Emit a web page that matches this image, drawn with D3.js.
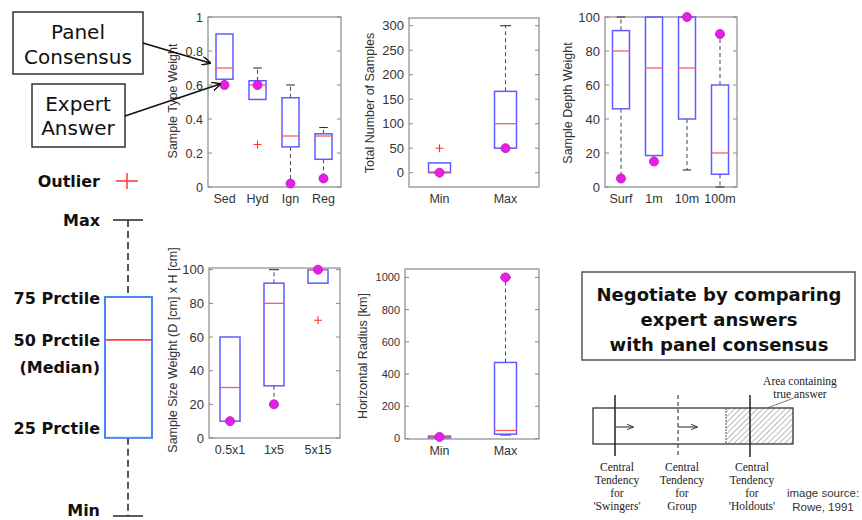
<!DOCTYPE html>
<html><head><meta charset="utf-8">
<script src="https://cdn.jsdelivr.net/npm/d3@7"></script>
<style>body{margin:0;background:#fff}svg{display:block}</style>
</head><body>
<svg id="c" width="862" height="520"></svg>
<script>
// ---------- DATA ----------
const typeCats = ["Sed","Hyd","Ign","Reg"];
const typeLo   = [0.60,0.515,0.02,0.05];
const typeQ1   = [0.634,0.515,0.236,0.163];
const typeMed  = [0.70,0.60,0.30,0.30];
const typeQ3   = [0.90,0.625,0.525,0.313];
const typeHi   = [0.90,0.70,0.60,0.35];
const typeOut  = [[],[0.25],[],[]];
const typeExp  = [0.60,0.60,0.02,0.05];
const typeTicks = [0,0.2,0.4,0.6,0.8,1];

const numCats = ["Min","Max"];
const numLo   = [0,50];
const numQ1   = [0,50];
const numMed  = [1.5,100];
const numQ3   = [20,166];
const numHi   = [20,300];
const numOut  = [[50],[]];
const numExp  = [0,50];
const numTicks = [0,50,100,150,200,250,300];

const depCats = ["Surf","1m","10m","100m"];
const depLo   = [5,15,10,0];
const depQ1   = [46,18.5,40,7.5];
const depMed  = [80,70,70,20];
const depQ3   = [92,100,100,60];
const depHi   = [100,100,100,90];
const depOut  = [[],[],[],[]];
const depExp  = [5,15,100,90];
const depTicks = [0,20,40,60,80,100];

const sizeCats = ["0.5x1","1x5","5x15"];
const sizeLo   = [10,20,92];
const sizeQ1   = [10,31,92];
const sizeMed  = [30,80,100];
const sizeQ3   = [60,92,100];
const sizeHi   = [60,100,100];
const sizeOut  = [[],[],[70]];
const sizeExp  = [10,20,100];
const sizeTicks = [0,20,40,60,80,100];

const radCats = ["Min","Max"];
const radLo   = [5,22];
const radQ1   = [5,27];
const radMed  = [10,50];
const radQ3   = [15,472];
const radHi   = [15,1000];
const radOut  = [[],[]];
const radExp  = [10,1000];
const radTicks = [0,200,400,600,800,1000];

// legend schematic (position of each stat on a 0-100 schematic scale)
const legendLabels = ["Max","75 Prctile","50 Prctile","25 Prctile","Min"];
const legendVals   = [100,74,59.5,26.4,0];

// ---------- DRAW ----------
const svg = d3.select("#c");
const SANS = "'DejaVu Sans', sans-serif";
const ARIAL = "'Liberation Sans', Arial, sans-serif";
const SERIF = "'Liberation Serif', 'Times New Roman', serif";

function panel(o){
  const g = svg.append("g");
  const y = d3.scaleLinear().domain(o.ydom).range([o.fy1, o.fy0]);
  const x = d3.scalePoint().domain(o.cats).range(o.xr);
  const bw = o.bw;
  const tfs = o.tfs || 12.5;
  // frame
  g.append("rect").attr("x",o.fx0).attr("y",o.fy0).attr("width",o.fx1-o.fx0).attr("height",o.fy1-o.fy0)
    .attr("fill","#fff").attr("stroke","#8a8a8a").attr("stroke-width",1.2);
  // ticks
  o.ticks.forEach(t=>{
    const yy = y(t);
    g.append("line").attr("x1",o.fx0).attr("x2",o.fx0+4).attr("y1",yy).attr("y2",yy).attr("stroke","#8a8a8a");
    g.append("line").attr("x1",o.fx1-4).attr("x2",o.fx1).attr("y1",yy).attr("y2",yy).attr("stroke","#8a8a8a");
    g.append("text").attr("x",o.fx0-5).attr("y",yy).attr("dy","0.36em").attr("text-anchor","end")
      .attr("font-family",ARIAL).attr("font-size",tfs).attr("fill","#333").text(d3.format("~g")(t));
  });
  // ylabel
  g.append("text").attr("transform",`translate(${o.lx},${o.ly}) rotate(-90)`).attr("text-anchor","middle")
    .attr("font-family",ARIAL).attr("font-size",12.5).attr("fill","#333").text(o.label);
  // category labels
  o.cats.forEach(c=>{
    g.append("text").attr("x",x(c)).attr("y",o.fy1+11).attr("dy","0.36em").attr("text-anchor","middle")
      .attr("font-family",ARIAL).attr("font-size",12.5).attr("fill","#333").text(c);
  });
  o.cats.forEach((c,i)=>{
    const cx = x(c);
    // whiskers
    if(o.hi[i] > o.q3[i]){
      g.append("line").attr("x1",cx).attr("x2",cx).attr("y1",y(o.q3[i])).attr("y2",y(o.hi[i]))
        .attr("stroke","#555").attr("stroke-width",1.1).attr("stroke-dasharray","4,3");
      g.append("line").attr("x1",cx-bw/4).attr("x2",cx+bw/4).attr("y1",y(o.hi[i])).attr("y2",y(o.hi[i]))
        .attr("stroke","#333").attr("stroke-width",1.1);
    }
    if(o.lo[i] < o.q1[i]){
      g.append("line").attr("x1",cx).attr("x2",cx).attr("y1",y(o.q1[i])).attr("y2",y(o.lo[i]))
        .attr("stroke","#555").attr("stroke-width",1.1).attr("stroke-dasharray","4,3");
      g.append("line").attr("x1",cx-bw/4).attr("x2",cx+bw/4).attr("y1",y(o.lo[i])).attr("y2",y(o.lo[i]))
        .attr("stroke","#333").attr("stroke-width",1.1);
    }
    // box
    g.append("rect").attr("x",cx-bw/2).attr("y",y(o.q3[i])).attr("width",bw)
      .attr("height",Math.max(0.5,y(o.q1[i])-y(o.q3[i])))
      .attr("fill","none").attr("stroke","#5d5dff").attr("stroke-width",1.5);
    // median
    g.append("line").attr("x1",cx-bw/2).attr("x2",cx+bw/2).attr("y1",y(o.med[i])).attr("y2",y(o.med[i]))
      .attr("stroke","#ff5a5a").attr("stroke-width",1.3);
    // outliers
    o.out[i].forEach(v=>{
      const yy=y(v);
      g.append("path").attr("d",`M${cx-4},${yy}H${cx+4}M${cx},${yy-4}V${yy+4}`)
        .attr("stroke","#ff3030").attr("stroke-width",1.1).attr("fill","none");
    });
  });
  // expert answers
  o.cats.forEach((c,i)=>{
    g.append("circle").attr("cx",x(c)).attr("cy",y(o.exp[i])).attr("r",4.5)
      .attr("fill","#e61ee6").attr("stroke","#c010c0").attr("stroke-width",0.8);
  });
}

panel({cats:typeCats,lo:typeLo,q1:typeQ1,med:typeMed,q3:typeQ3,hi:typeHi,out:typeOut,exp:typeExp,ticks:typeTicks,
  ydom:[0,1],fx0:208,fx1:341,fy0:17,fy1:187,xr:[224.5,323.5],bw:17,label:"Sample Type Weight",lx:177,ly:101});
panel({cats:numCats,lo:numLo,q1:numQ1,med:numMed,q3:numQ3,hi:numHi,out:numOut,exp:numExp,ticks:numTicks,
  ydom:[-29.2,315.7],fx0:409,fx1:539,fy0:18,fy1:187,xr:[439.5,505.5],bw:22,label:"Total Number of Samples",lx:374,ly:103,tfs:13});
panel({cats:depCats,lo:depLo,q1:depQ1,med:depMed,q3:depQ3,hi:depHi,out:depOut,exp:depExp,ticks:depTicks,
  ydom:[0,100],fx0:605,fx1:737,fy0:17,fy1:187,xr:[621,720],bw:17,label:"Sample Depth Weight",lx:572,ly:103,tfs:13});
panel({cats:sizeCats,lo:sizeLo,q1:sizeQ1,med:sizeMed,q3:sizeQ3,hi:sizeHi,out:sizeOut,exp:sizeExp,ticks:sizeTicks,
  ydom:[0,101],fx0:209,fx1:340,fy0:268,fy1:438,xr:[230,318],bw:20,label:"Sample Size Weight (D [cm] x H [cm]",lx:177,ly:350,tfs:13});
panel({cats:radCats,lo:radLo,q1:radQ1,med:radMed,q3:radQ3,hi:radHi,out:radOut,exp:radExp,ticks:radTicks,
  ydom:[-3,1052],fx0:405,fx1:539,fy0:269,fy1:439,xr:[439.5,505.5],bw:22,label:"Horizontal Radius [km]",lx:367,ly:356,tfs:11});

// ---------- annotations ----------
const ann = svg.append("g");
ann.append("defs").html(`
 <marker id="ah" viewBox="0 0 10 10" refX="9" refY="5" markerWidth="9" markerHeight="9" orient="auto" markerUnits="userSpaceOnUse">
   <path d="M0,0 L10,5 L0,10" fill="none" stroke="#111" stroke-width="1.6"/></marker>
 <marker id="sa" viewBox="0 0 10 10" refX="9" refY="5" markerWidth="7" markerHeight="7" orient="auto" markerUnits="userSpaceOnUse">
   <path d="M0,1 L10,5 L0,9" fill="none" stroke="#333" stroke-width="1.3"/></marker>
 <pattern id="hatch" patternUnits="userSpaceOnUse" width="4" height="4" patternTransform="rotate(45)">
   <line x1="0" y1="0" x2="0" y2="4" stroke="#777" stroke-width="1"/></pattern>`);

ann.append("rect").attr("x",13).attr("y",12).attr("width",130).attr("height",62).attr("fill","#fff").attr("stroke","#333").attr("stroke-width",1.5);
ann.append("rect").attr("x",32).attr("y",84).attr("width",93).attr("height",63).attr("fill","#fff").attr("stroke","#333").attr("stroke-width",1.5);
[["Panel",78,32],["Consensus",78,57],["Expert",78,104],["Answer",78,128]].forEach(d=>{
  ann.append("text").attr("x",d[1]).attr("y",d[2]).attr("dy","0.36em").attr("text-anchor","middle")
    .attr("font-family",SANS).attr("font-size",20).attr("fill","#111").text(d[0]);
});
ann.append("line").attr("x1",143).attr("y1",43).attr("x2",210).attr("y2",63).attr("stroke","#111").attr("stroke-width",1.6).attr("marker-end","url(#ah)");
ann.append("line").attr("x1",125).attr("y1",116).attr("x2",220).attr("y2",84).attr("stroke","#111").attr("stroke-width",1.6).attr("marker-end","url(#ah)");

// Outlier legend
ann.append("text").attr("x",100).attr("y",181).attr("dy","0.36em").attr("text-anchor","end")
  .attr("font-family",SANS).attr("font-weight","bold").attr("font-size",16).attr("fill","#111").text("Outlier");
ann.append("path").attr("d","M116,181H138M127,173V189").attr("stroke","#ff3030").attr("stroke-width",1.4).attr("fill","none");

// Box legend
const ly = d3.scaleLinear().domain([0,100]).range([516,220]);
const lg = svg.append("g");
const lx = 128, lbw = 47;
lg.append("line").attr("x1",lx).attr("x2",lx).attr("y1",ly(legendVals[0])).attr("y2",ly(legendVals[1]))
  .attr("stroke","#555").attr("stroke-width",2).attr("stroke-dasharray","7,4");
lg.append("line").attr("x1",lx).attr("x2",lx).attr("y1",ly(legendVals[3])).attr("y2",ly(legendVals[4]))
  .attr("stroke","#555").attr("stroke-width",2).attr("stroke-dasharray","7,4");
[legendVals[0],legendVals[4]].forEach(v=>{
  lg.append("line").attr("x1",lx-15).attr("x2",lx+15).attr("y1",ly(v)).attr("y2",ly(v)).attr("stroke","#333").attr("stroke-width",1.6);
});
lg.append("rect").attr("x",lx-23).attr("y",ly(legendVals[1])).attr("width",lbw).attr("height",ly(legendVals[3])-ly(legendVals[1]))
  .attr("fill","#fff").attr("stroke","#4f82ff").attr("stroke-width",2);
lg.append("line").attr("x1",lx-23).attr("x2",lx+24).attr("y1",ly(legendVals[2])).attr("y2",ly(legendVals[2])).attr("stroke","#ff3b3b").attr("stroke-width",1.6);
const legendOff = [0,1,0,-10,-6];
legendLabels.forEach((t,i)=>{
  lg.append("text").attr("x",100).attr("y",ly(legendVals[i])+legendOff[i]).attr("dy","0.36em").attr("text-anchor","end")
    .attr("font-family",SANS).attr("font-weight","bold").attr("font-size",16).attr("fill","#111").text(t);
});
lg.append("text").attr("x",100).attr("y",ly(legendVals[2])+27).attr("dy","0.36em").attr("text-anchor","end")
  .attr("font-family",SANS).attr("font-weight","bold").attr("font-size",16).attr("fill","#111").text("(Median)");

// Negotiate box
ann.append("rect").attr("x",582).attr("y",272).attr("width",273).attr("height",88).attr("fill","#fff").attr("stroke","#555").attr("stroke-width",1.5);
[["Negotiate by comparing",295],["expert answers",320],["with panel consensus",345]].forEach(d=>{
  ann.append("text").attr("x",719).attr("y",d[1]).attr("dy","0.36em").attr("text-anchor","middle")
    .attr("font-family",SANS).attr("font-weight","bold").attr("font-size",18).attr("fill","#111").text(d[0]);
});

// Rowe diagram
const rw = svg.append("g");
rw.append("rect").attr("x",726).attr("y",408).attr("width",67).attr("height",36).attr("fill","url(#hatch)");
rw.append("rect").attr("x",593).attr("y",408).attr("width",200).attr("height",36).attr("fill","none").attr("stroke","#333").attr("stroke-width",1.3);
rw.append("line").attr("x1",726).attr("x2",726).attr("y1",408).attr("y2",444).attr("stroke","#555").attr("stroke-dasharray","2,1");
rw.append("line").attr("x1",615).attr("x2",615).attr("y1",395).attr("y2",456).attr("stroke","#222").attr("stroke-width",1.5);
rw.append("line").attr("x1",678).attr("x2",678).attr("y1",395).attr("y2",456).attr("stroke","#333").attr("stroke-width",1.1).attr("stroke-dasharray","4,3");
rw.append("line").attr("x1",750).attr("x2",750).attr("y1",395).attr("y2",457).attr("stroke","#222").attr("stroke-width",1.5);
rw.append("line").attr("x1",615).attr("x2",633).attr("y1",427).attr("y2",427).attr("stroke","#333").attr("stroke-width",1.1).attr("marker-end","url(#sa)");
rw.append("line").attr("x1",678).attr("x2",697).attr("y1",427).attr("y2",427).attr("stroke","#333").attr("stroke-width",1.1).attr("marker-end","url(#sa)");
rw.append("line").attr("x1",767).attr("x2",794).attr("y1",408).attr("y2",398).attr("stroke","#555").attr("stroke-width",0.8);
[["Area containing",800,381],["true answer",800,394]].forEach(d=>{
  rw.append("text").attr("x",d[1]).attr("y",d[2]).attr("dy","0.33em").attr("text-anchor","middle")
    .attr("font-family",SERIF).attr("font-size",11.5).attr("fill","#222").text(d[0]);
});
const colsX = [617,682,752];
const colsT = [["Central","Tendency","for","'Swingers'"],["Central","Tendency","for","Group"],["Central","Tendency","for","'Holdouts'"]];
colsT.forEach((lines,j)=>{
  lines.forEach((t,k)=>{
    rw.append("text").attr("x",colsX[j]).attr("y",467+k*13).attr("dy","0.33em").attr("text-anchor","middle")
      .attr("font-family",SERIF).attr("font-size",11.5).attr("fill","#222").text(t);
  });
});
[["image source:",493],["Rowe, 1991",507]].forEach(d=>{
  rw.append("text").attr("x",823).attr("y",d[1]).attr("dy","0.36em").attr("text-anchor","middle")
    .attr("font-family",ARIAL).attr("font-size",11.5).attr("fill","#333").text(d[0]);
});
</script>
</body></html>
